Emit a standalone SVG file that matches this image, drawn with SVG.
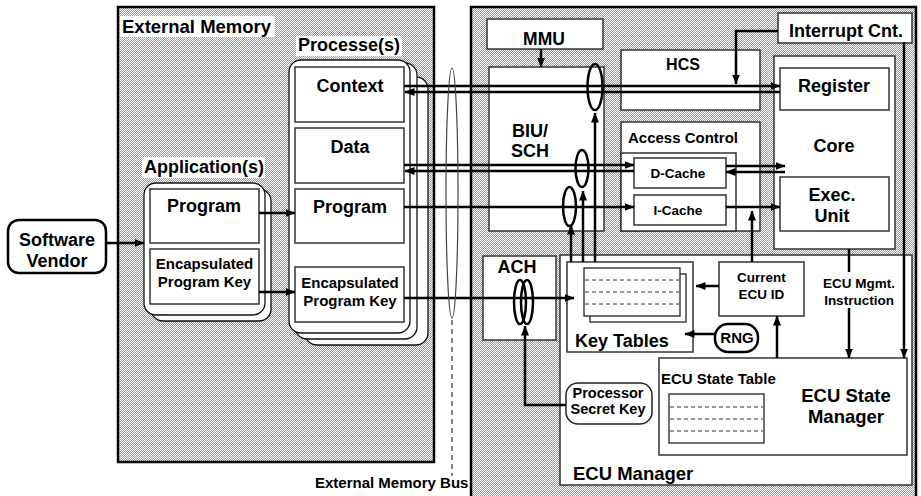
<svg xmlns="http://www.w3.org/2000/svg" width="921" height="496" viewBox="0 0 921 496">
<style>
text{font-family:"Liberation Sans",Arial,Helvetica,sans-serif;font-weight:bold;fill:#000}
.panel{fill:url(#stip);stroke:#000;stroke-width:2.5}
.box{fill:#fff;stroke:#333;stroke-width:1.5}
.stack{fill:#fff;stroke:#111;stroke-width:1.3}
.lbl{fill:#fff}
.c{text-anchor:middle}
.ln{fill:none;stroke:#000;stroke-width:2.5}
.arr{fill:none;stroke:#000;stroke-width:2.5;marker-end:url(#ah)}
.coil{fill:none;stroke:#000;stroke-width:2.5}
.dash{stroke:#333;stroke-width:1;stroke-dasharray:4 3}
.tbl{fill:#fff;stroke:#222;stroke-width:1.3}
</style>
<defs>
<pattern id="stip" width="2" height="2" patternUnits="userSpaceOnUse">
<rect width="2" height="2" fill="#fff"/>
<rect x="1" y="0" width="1" height="1" fill="#999"/>
<rect x="0" y="1" width="1" height="1" fill="#999"/>
</pattern>
<marker id="ah" markerUnits="userSpaceOnUse" markerWidth="10" markerHeight="8" refX="9.5" refY="4" orient="auto">
<path d="M0,0 L10,4 L0,8 z" fill="#000"/>
</marker>
</defs>

<!-- Panels -->
<g id="external-memory">
<rect class="panel" x="118" y="7" width="316" height="455"/>
<rect class="lbl" x="120" y="16" width="155" height="21"/>
<text x="122" y="33" font-size="18.5">External Memory</text>
</g>
<g id="processor">
<rect class="panel" x="471" y="7" width="445" height="495"/>
</g>

<!-- Software vendor -->
<g id="software-vendor">
<rect x="8" y="220" width="98" height="53" rx="11" fill="#fff" stroke="#000" stroke-width="2.5"/>
<text class="c" x="57" y="246" font-size="18">Software</text>
<text class="c" x="57" y="267" font-size="18">Vendor</text>
</g>

<!-- Applications -->
<g id="applications">
<rect class="lbl" x="142" y="157" width="123" height="21"/>
<text x="144" y="173" font-size="18">Application(s)</text>
<rect class="stack" x="151" y="189" width="120" height="132" rx="12"/>
<rect class="stack" x="144" y="183" width="121" height="132" rx="12"/>
</g>
<g id="app-program">
<rect class="box" x="150" y="189" width="109" height="54"/>
<text class="c" x="204" y="212" font-size="18">Program</text>
</g>
<g id="app-epk">
<rect class="box" x="150" y="249" width="109" height="55"/>
<text class="c" x="204.5" y="269" font-size="15">Encapsulated</text>
<text class="c" x="204.5" y="287" font-size="15">Program Key</text>
</g>

<!-- Processes -->
<g id="processes">
<rect class="lbl" x="296" y="36" width="106" height="20"/>
<text x="298" y="51" font-size="18">Processe(s)</text>
<rect class="stack" x="305" y="77" width="123" height="268" rx="12"/>
<rect class="stack" x="295" y="63" width="122" height="276" rx="12"/>
<rect class="stack" x="289" y="60" width="121" height="273" rx="12"/>
</g>
<g id="proc-context">
<rect class="box" x="295" y="67" width="109" height="55"/>
<text class="c" x="350" y="92" font-size="18">Context</text>
</g>
<g id="proc-data">
<rect class="box" x="295" y="128" width="109" height="55"/>
<text class="c" x="350" y="153" font-size="18">Data</text>
</g>
<g id="proc-program">
<rect class="box" x="295" y="189" width="109" height="54"/>
<text class="c" x="350" y="213" font-size="18">Program</text>
</g>
<g id="proc-epk">
<rect class="box" x="295" y="267" width="109" height="55"/>
<text class="c" x="350" y="288" font-size="15">Encapsulated</text>
<text class="c" x="350" y="306" font-size="15">Program Key</text>
</g>

<!-- Processor internals -->
<g id="mmu">
<rect class="box" x="487" y="19" width="116" height="30"/>
<text class="c" x="544" y="45" font-size="17.5">MMU</text>
</g>
<g id="biu-sch">
<rect class="box" x="489" y="67" width="115" height="164"/>
<text class="c" x="530" y="137" font-size="18">BIU/</text>
<text class="c" x="530" y="157" font-size="18">SCH</text>
</g>
<g id="hcs">
<rect class="box" x="621" y="50" width="139" height="60"/>
<text class="c" x="683" y="70" font-size="16">HCS</text>
</g>
<g id="interrupt-cnt">
<rect class="box" x="778" y="13" width="134" height="30"/>
<text class="c" x="846" y="37" font-size="18">Interrupt Cnt.</text>
</g>
<g id="access-control">
<rect class="box" x="621" y="122" width="139" height="109"/>
<text x="628" y="143" font-size="15">Access Control</text>
<rect class="box" x="621" y="153" width="115" height="78"/>
</g>
<g id="d-cache">
<rect class="box" x="634" y="158" width="92" height="30"/>
<text class="c" x="678" y="178" font-size="13.5">D-Cache</text>
</g>
<g id="i-cache">
<rect class="box" x="634" y="195" width="92" height="30"/>
<text class="c" x="678" y="215" font-size="13.5">I-Cache</text>
</g>
<g id="core">
<rect class="box" x="774" y="56" width="121" height="193"/>
<text class="c" x="834" y="152" font-size="18">Core</text>
</g>
<g id="register">
<rect class="box" x="780" y="68" width="109" height="42"/>
<text class="c" x="834" y="92" font-size="18">Register</text>
</g>
<g id="exec-unit">
<rect class="box" x="780" y="177" width="109" height="54"/>
<text class="c" x="832" y="201" font-size="18">Exec.</text>
<text class="c" x="832" y="222" font-size="18">Unit</text>
</g>
<g id="ach">
<rect class="box" x="483" y="256" width="73" height="84"/>
<text class="c" x="517" y="273" font-size="18">ACH</text>
<ellipse class="coil" cx="520" cy="302" rx="6" ry="22"/>
<ellipse class="coil" cx="527" cy="302" rx="6" ry="22"/>
</g>
<g id="ecu-manager">
<rect class="box" x="560" y="255" width="352" height="230"/>
<text x="573" y="480" font-size="18.5">ECU Manager</text>
</g>
<g id="key-tables">
<rect class="box" x="567" y="262" width="126" height="90"/>
<rect class="tbl" x="590" y="274" width="96" height="48"/>
<rect class="tbl" x="584" y="268" width="96" height="48"/>
<line class="dash" x1="585" y1="280" x2="679" y2="280"/>
<line class="dash" x1="585" y1="292" x2="679" y2="292"/>
<line class="dash" x1="585" y1="304" x2="679" y2="304"/>
<text x="575" y="347" font-size="18">Key Tables</text>
</g>
<g id="current-ecu-id">
<rect class="box" x="719" y="262" width="85" height="54"/>
<text class="c" x="761.5" y="282" font-size="13.5">Current</text>
<text class="c" x="761.5" y="299" font-size="13.5">ECU ID</text>
</g>
<g id="rng">
<rect x="715" y="324" width="43" height="28" rx="13" fill="#fff" stroke="#000" stroke-width="2.5"/>
<text class="c" x="737" y="343" font-size="15">RNG</text>
</g>
<g id="processor-secret-key">
<rect x="566" y="383" width="86" height="41" rx="12" fill="#fff" stroke="#222" stroke-width="1.5"/>
<text class="c" x="608" y="398" font-size="14.5">Processor</text>
<text class="c" x="608" y="414" font-size="14.5">Secret Key</text>
</g>
<g id="ecu-state-manager">
<rect class="box" x="659" y="358" width="248" height="97"/>
<text x="661" y="384" font-size="15">ECU State Table</text>
<rect class="tbl" x="669" y="394" width="95" height="49"/>
<line class="dash" x1="670" y1="407" x2="763" y2="407"/>
<line class="dash" x1="670" y1="419" x2="763" y2="419"/>
<line class="dash" x1="670" y1="431" x2="763" y2="431"/>
<text class="c" x="846" y="402" font-size="18.5">ECU State</text>
<text class="c" x="846" y="423" font-size="18.5">Manager</text>
</g>

<!-- Connectors -->
<g id="connectors">
<line class="arr" x1="106" y1="243" x2="144" y2="243"/>
<line class="arr" x1="259" y1="213" x2="295" y2="213"/>
<line class="arr" x1="259" y1="292" x2="295" y2="292"/>
<!-- context <-> register -->
<line class="arr" x1="404" y1="86" x2="780" y2="86"/>
<line class="arr" x1="780" y1="92" x2="405" y2="92"/>
<!-- interrupt to bus -->
<polyline class="arr" points="778,31 736,31 736,84"/>
<!-- mmu -> biu -->
<line class="arr" x1="541" y1="49" x2="541" y2="67"/>
<!-- data <-> d-cache -->
<line class="arr" x1="404" y1="165" x2="634" y2="165"/>
<line class="arr" x1="634" y1="171" x2="405" y2="171"/>
<!-- d-cache <-> core -->
<line class="arr" x1="726" y1="166" x2="785" y2="166"/>
<line class="arr" x1="785" y1="172" x2="726" y2="172"/>
<!-- program -> i-cache -> exec -->
<line class="arr" x1="404" y1="207" x2="634" y2="207"/>
<line class="arr" x1="726" y1="207" x2="780" y2="207"/>
<!-- epk -> key tables -->
<line class="arr" x1="404" y1="298" x2="574" y2="298"/>
<!-- key tables up to BIU coils -->
<line class="arr" x1="571" y1="262" x2="571" y2="225"/>
<line class="arr" x1="583" y1="262" x2="583" y2="191"/>
<line class="arr" x1="595" y1="262" x2="595" y2="113"/>
<ellipse class="coil" cx="595" cy="87" rx="7.5" ry="23"/>
<ellipse class="coil" cx="582" cy="168.5" rx="6.5" ry="18.5"/>
<ellipse class="coil" cx="569.5" cy="206.5" rx="6.5" ry="19.5"/>
<!-- current ecu id -> access control -->
<line class="arr" x1="752" y1="262" x2="752" y2="211"/>
<line class="arr" x1="719" y1="286" x2="696" y2="286"/>
<line class="arr" x1="715" y1="334" x2="685" y2="334"/>
<line class="arr" x1="777" y1="358" x2="777" y2="316"/>
<!-- ecu mgmt instruction -->
<line class="ln" x1="849" y1="249" x2="849" y2="272"/>
<line class="arr" x1="849" y1="308" x2="849" y2="358"/>
<text class="c" x="859" y="288" font-size="13.5">ECU Mgmt.</text>
<text class="c" x="859" y="305" font-size="13.5">Instruction</text>
<line class="arr" x1="904" y1="42" x2="904" y2="358"/>
<!-- secret key -> ach -->
<polyline class="arr" points="566,405 525,405 525,326"/>
<!-- external memory bus -->
<ellipse cx="452" cy="193" rx="6" ry="125" fill="none" stroke="#444" stroke-width="1.2"/>
<line x1="452" y1="320" x2="452" y2="476" stroke="#333" stroke-width="1.2" stroke-dasharray="5 4"/>
<text x="315" y="488" font-size="15">External Memory Bus</text>
</g>
</svg>
